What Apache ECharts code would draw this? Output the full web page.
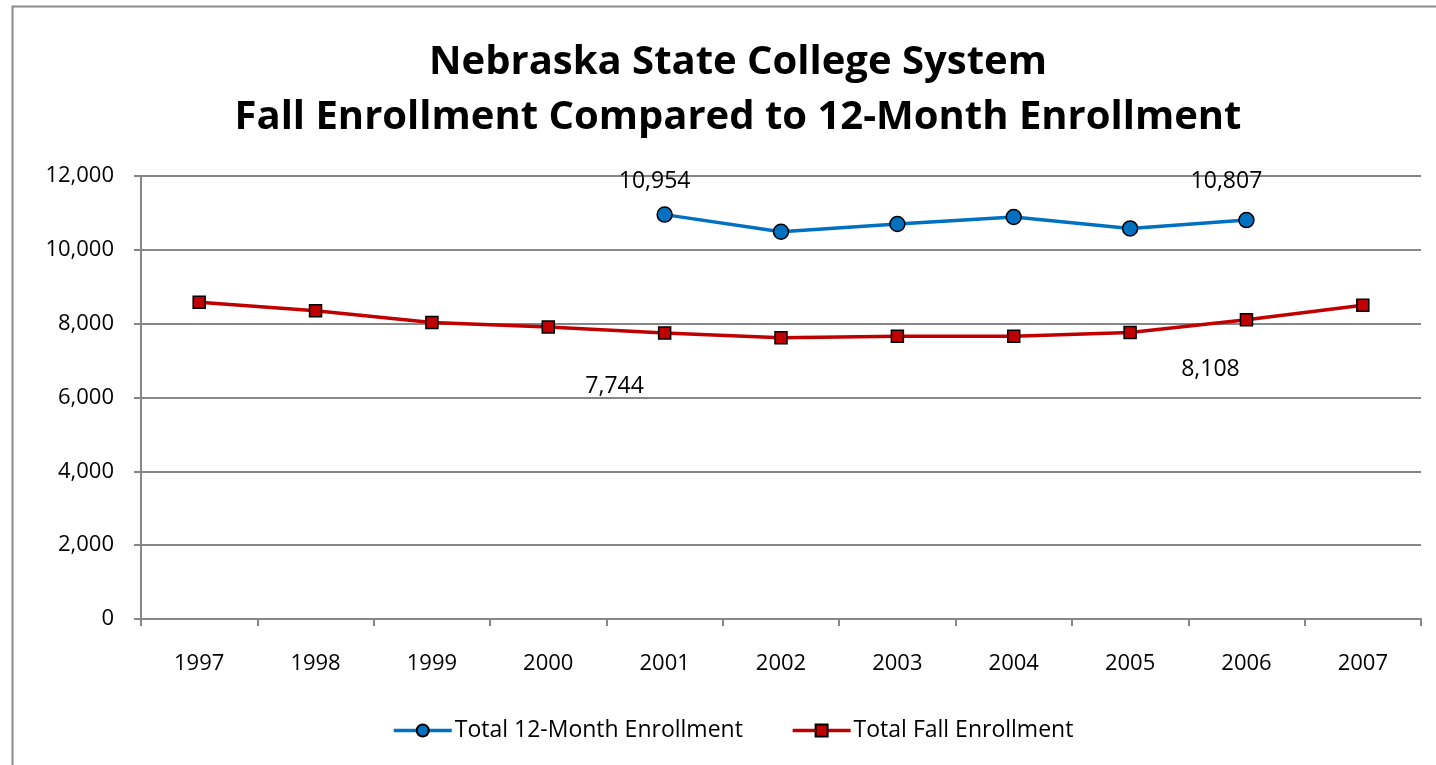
<!DOCTYPE html>
<html>
<head>
<meta charset="utf-8">
<script src="https://cdn.jsdelivr.net/npm/echarts@6/dist/echarts.min.js"></script>
<style>
html, body { margin: 0; padding: 0; background: #fff; }
#chart { width: 1436px; height: 765px; }
</style>
</head>
<body>
<div id="chart"></div>
<script>
var years = ["1997", "1998", "1999", "2000", "2001", "2002", "2003", "2004", "2005", "2006", "2007"];
var twelveMonth = [null, null, null, null, 10954, 10490, 10700, 10890, 10580, 10807, null];
var fallEnroll = [8580, 8350, 8030, 7910, 7744, 7620, 7660, 7660, 7760, 8108, 8500];
var yTicks = [0, 2000, 4000, 6000, 8000, 10000, 12000];

// which points carry a value label, and where it sits
var blueLabels = { 4: [-10, -8], 9: [-20, -14] };
var redLabels = { 4: [-50, 77], 9: [-36, 73] };

function withLabels(arr, spots) {
  return arr.map(function (v, i) {
    if (spots[i] && v != null) {
      return {
        value: v,
        label: {
          show: true,
          position: "top",
          offset: spots[i],
          formatter: function (p) { return p.value.toLocaleString("en-US"); }
        }
      };
    }
    return v;
  });
}

var font = "Open Sans";
var chart = echarts.init(document.getElementById("chart"));
var option = {
  backgroundColor: "#fff",
  animation: false,
  textStyle: { fontFamily: font },
  title: {
    text: "Nebraska State College System\nFall Enrollment Compared to 12-Month Enrollment",
    left: 733,
    top: 30,
    textAlign: "center",
    textStyle: {
      fontFamily: font,
      fontSize: 40,
      fontWeight: "bold",
      color: "#000",
      lineHeight: 55
    }
  },
  graphic: [{
    type: "rect",
    shape: { x: 12.5, y: 6.5, width: 1500, height: 1000 },
    style: { fill: "none", stroke: "#8c8c8c", lineWidth: 2 },
    silent: true
  }],
  legend: {
    bottom: 18,
    left: 387,
    itemWidth: 58,
    itemHeight: 15,
    itemGap: 48,
    lineStyle: { width: 3.5 },
    textStyle: { fontFamily: font, fontSize: 23, color: "#000", padding: [0, 0, 0, -2] },
    data: ["Total 12-Month Enrollment", "Total Fall Enrollment"]
  },
  grid: { left: 141, right: 15, top: 176, bottom: 146 },
  xAxis: {
    type: "category",
    data: years,
    boundaryGap: true,
    axisLine: { lineStyle: { color: "#868686", width: 2 } },
    axisTick: { show: true, length: 7, lineStyle: { color: "#868686", width: 2 } },
    axisLabel: { fontFamily: font, fontSize: 22, color: "#000", margin: 34 }
  },
  yAxis: {
    type: "value",
    min: 0,
    max: 12000,
    interval: 2000,
    axisLine: { show: true, lineStyle: { color: "#868686", width: 2 } },
    axisTick: { show: true, length: 7, lineStyle: { color: "#868686", width: 2 } },
    splitLine: { lineStyle: { color: "#868686", width: 2 } },
    axisLabel: {
      fontFamily: font,
      fontSize: 22,
      color: "#000",
      margin: 27,
      formatter: function (v) { return yTicks.indexOf(v) >= 0 ? v.toLocaleString("en-US") : ""; }
    }
  },
  series: [
    {
      name: "Total 12-Month Enrollment",
      type: "line",
      data: withLabels(twelveMonth, blueLabels),
      symbol: "circle",
      symbolSize: 15,
      lineStyle: { color: "#0070C0", width: 3.5 },
      itemStyle: { color: "#0070C0", borderColor: "#000", borderWidth: 1.5 },
      label: { fontFamily: font, fontSize: 23, color: "#000" },
      z: 3
    },
    {
      name: "Total Fall Enrollment",
      type: "line",
      data: withLabels(fallEnroll, redLabels),
      symbol: "rect",
      symbolSize: 12,
      lineStyle: { color: "#C00000", width: 3.5 },
      itemStyle: { color: "#C00000", borderColor: "#000", borderWidth: 1.5 },
      label: { fontFamily: font, fontSize: 23, color: "#000" },
      z: 2
    }
  ]
};
chart.setOption(option);
</script>
</body>
</html>
